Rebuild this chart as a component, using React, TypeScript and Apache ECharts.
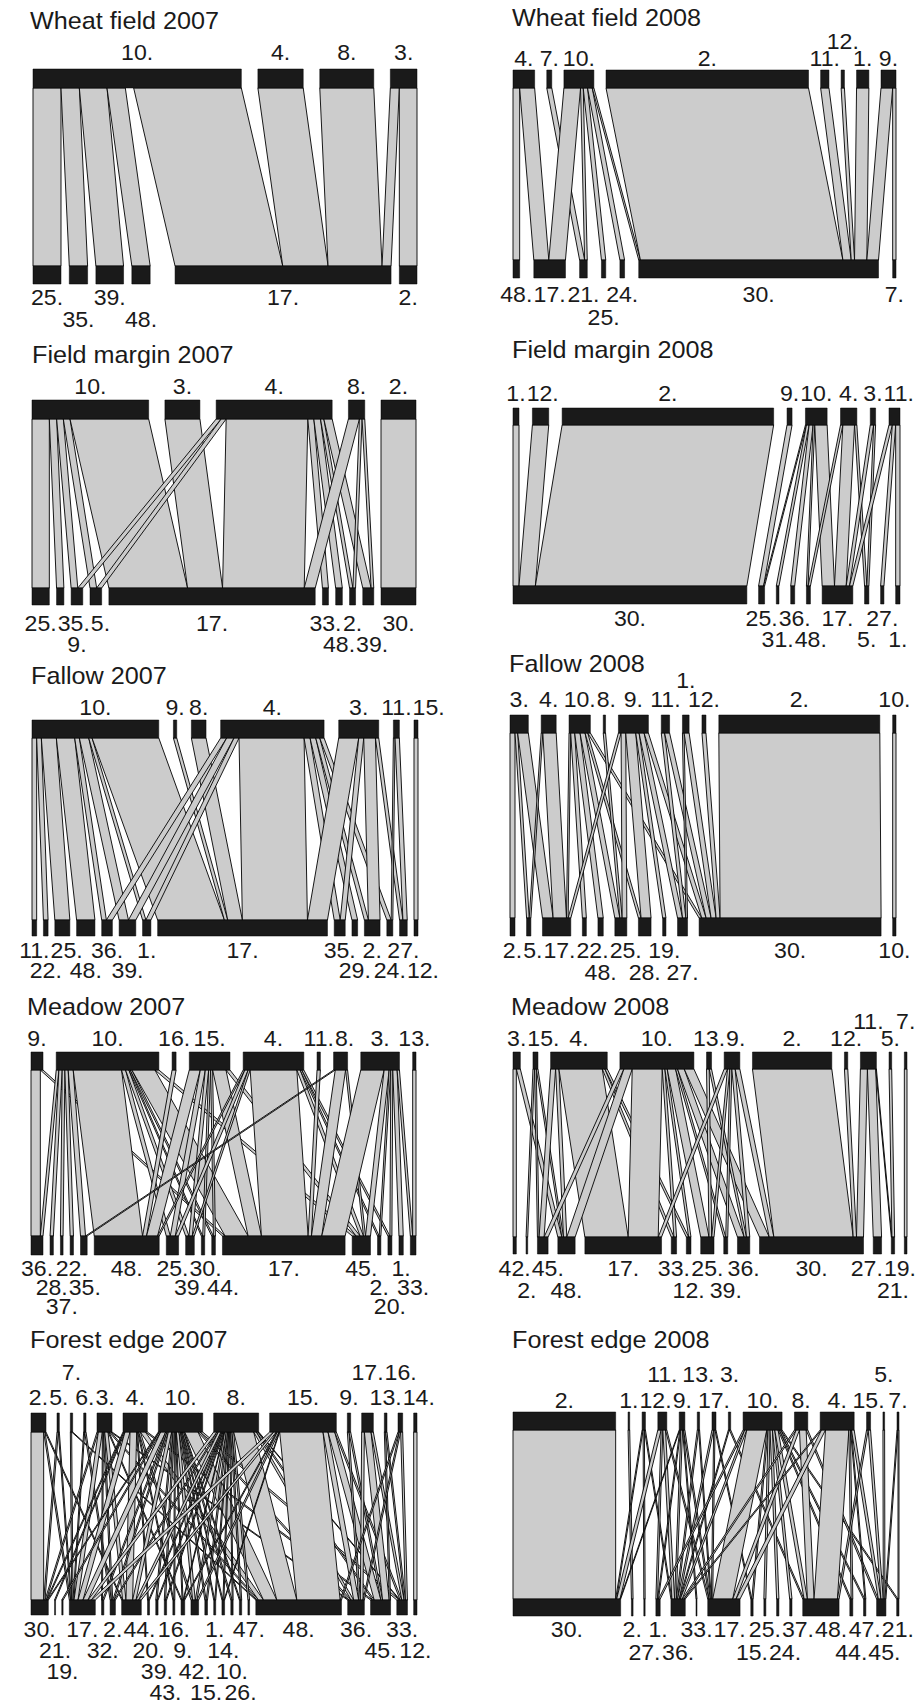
import React, { useEffect, useRef } from "react";
import * as echarts from "echarts";

// [higher-level index, lower-level index, number of interactions]
type Link = [number, number, number];

// ---------------- Wheat field 2007 ----------------
const wheat07High = ["10.", "4.", "8.", "3."];
const wheat07Low = ["25.", "35.", "39.", "48.", "", "17.", "2."];
const wheat07Links: Link[] = [
  [0, 0, 84], [0, 1, 55], [0, 2, 83], [0, 3, 55], [0, 4, 25], [0, 5, 323],
  [1, 5, 136], [2, 5, 162], [3, 5, 27], [3, 6, 53],
];

// ---------------- Wheat field 2008 ----------------
const wheat08High = ["4.", "7.", "10.", "2.", "11.", "12.", "1.", "9."];
const wheat08Low = ["48.", "17.", "21.", "25.", "24.", "30.", "7."];
const wheat08Links: Link[] = [
  [0, 0, 20], [0, 1, 45], [1, 2, 15],
  [2, 1, 50], [2, 2, 8], [2, 3, 13], [2, 4, 14], [2, 5, 5],
  [3, 5, 608], [4, 5, 25], [5, 5, 10], [6, 5, 37], [7, 5, 35], [7, 6, 10],
];

// ---------------- Field margin 2007 ----------------
const margin07High = ["10.", "3.", "4.", "8.", "2."];
const margin07Low = ["25.", "35.", "9.", "5.", "17.", "33.", "48.", "2.", "39.", "30."];
const margin07Links: Link[] = [
  [0, 0, 52], [0, 1, 22], [0, 2, 20], [0, 3, 20], [0, 4, 236],
  [1, 4, 105],
  [2, 2, 15], [2, 3, 15], [2, 4, 245], [2, 5, 18], [2, 6, 20], [2, 7, 10], [2, 8, 25],
  [3, 4, 33], [3, 7, 8], [3, 8, 8],
  [4, 9, 105],
];

// ---------------- Field margin 2008 ----------------
const margin08High = ["1.", "12.", "2.", "9.", "10.", "4.", "3.", "11."];
const margin08Low = ["30.", "25.", "31.", "36.", "48.", "17.", "5.", "27.", "1."];
const margin08Links: Link[] = [
  [0, 0, 18], [1, 0, 49], [2, 0, 634], [3, 1, 15],
  [4, 1, 3], [4, 2, 8], [4, 3, 12], [4, 4, 5], [4, 5, 37],
  [5, 4, 7], [5, 5, 35], [5, 6, 7],
  [6, 5, 10], [6, 6, 6],
  [7, 5, 10], [7, 7, 10], [7, 8, 13],
];

// ---------------- Fallow 2007 ----------------
const fallow07High = ["10.", "9.", "8.", "4.", "3.", "11.", "15."];
const fallow07Low = ["11.", "22.", "25.", "48.", "36.", "39.", "1.", "17.", "35.", "29.", "2.", "24.", "27.", "12."];
const fallow07Links: Link[] = [
  [0, 0, 14], [0, 1, 14], [0, 2, 45], [0, 3, 55], [0, 4, 14], [0, 5, 28], [0, 6, 10], [0, 7, 200],
  [1, 7, 10], [2, 7, 44],
  [3, 4, 18], [3, 5, 22], [3, 6, 15], [3, 7, 195], [3, 8, 18], [3, 9, 17], [3, 10, 12], [3, 11, 13],
  [4, 7, 60], [4, 8, 15], [4, 10, 35], [4, 12, 10],
  [5, 11, 5], [5, 12, 13], [6, 13, 12],
];

// ---------------- Fallow 2008 ----------------
const fallow08High = ["3.", "4.", "10.", "8.", "9.", "11.", "1.", "12.", "2.", "10."];
const fallow08Low = ["2.", "5.", "17.", "22.", "48.", "25.", "28.", "19.", "27.", "30.", "10."];
const fallow08Links: Link[] = [
  [0, 0, 15], [0, 1, 8], [0, 2, 32],
  [1, 1, 5], [1, 2, 40],
  [2, 2, 5], [2, 3, 12], [2, 4, 16], [2, 5, 15], [2, 6, 8], [2, 9, 8],
  [3, 5, 7],
  [4, 2, 8], [4, 5, 14], [4, 6, 30], [4, 7, 10], [4, 8, 15], [4, 9, 13],
  [5, 8, 10], [5, 9, 15], [6, 8, 5], [6, 9, 15], [7, 9, 12],
  [8, 9, 483], [9, 10, 10],
];

// ---------------- Meadow 2007 ----------------
const meadow07High = ["9.", "10.", "16.", "15.", "4.", "11.", "8.", "3.", "13."];
const meadow07Low = ["36.", "28.", "37.", "22.", "35.", "48.", "25.", "39.", "30.", "44.", "17.", "45.", "2.", "20.", "1.", "33."];
const meadow07Links: Link[] = [
  [0, 0, 28], [0, 10, 8],
  [1, 0, 8], [1, 1, 10], [1, 2, 8], [1, 3, 10], [1, 4, 15], [1, 5, 145], [1, 6, 12], [1, 7, 10],
  [1, 8, 4], [1, 9, 5], [1, 10, 69], [1, 11, 12],
  [2, 5, 12],
  [3, 5, 33], [3, 6, 15], [3, 7, 10], [3, 8, 6], [3, 9, 6], [3, 10, 40], [3, 11, 12],
  [4, 5, 5], [4, 6, 10], [4, 7, 6], [4, 10, 140], [4, 11, 10], [4, 12, 5], [4, 13, 6],
  [5, 10, 10],
  [6, 4, 5], [6, 10, 31], [6, 11, 6],
  [7, 10, 70], [7, 11, 15], [7, 12, 5], [7, 13, 6], [7, 14, 13], [7, 15, 7],
  [8, 15, 10],
];

// ---------------- Meadow 2008 ----------------
const meadow08High = ["3.", "15.", "4.", "10.", "13.", "9.", "2.", "12.", "11.", "5.", "7."];
const meadow08Low = ["42.", "2.", "45.", "48.", "17.", "33.", "12.", "25.", "39.", "36.", "30.", "27.", "21.", "19."];
const meadow08Links: Link[] = [
  [0, 0, 10], [0, 3, 12],
  [1, 1, 5], [1, 2, 5], [1, 3, 5],
  [2, 2, 15], [2, 3, 10], [2, 4, 130], [2, 5, 8], [2, 6, 7],
  [3, 2, 12], [3, 3, 25], [3, 4, 90], [3, 5, 8], [3, 6, 7], [3, 7, 25], [3, 8, 6], [3, 9, 20], [3, 10, 29],
  [4, 7, 8], [4, 9, 7],
  [5, 4, 10], [5, 7, 7], [5, 8, 6], [5, 9, 10], [5, 10, 14],
  [6, 10, 238], [7, 10, 10],
  [8, 10, 21], [8, 11, 25], [8, 12, 2],
  [9, 12, 8], [10, 13, 8],
];

// ---------------- Forest edge 2007 ----------------
const forest07High = ["2.", "5.", "7.", "6.", "3.", "4.", "10.", "8.", "15.", "9.", "17.", "13.", "16.", "14."];
const forest07Low = ["30.", "21.", "19.", "17.", "32.", "2.", "44.", "20.", "39.", "43.", "16.", "9.", "42.", "15.", "1.", "14.", "10.", "26.", "47.", "48.", "36.", "45.", "33.", "12."];
const forest07Links: Link[] = [
  [0, 0, 38], [0, 3, 4], [0, 6, 3],
  [1, 0, 4], [1, 3, 3],
  [2, 3, 4], [2, 19, 3],
  [3, 3, 3], [3, 5, 4],
  [4, 0, 4], [4, 3, 12], [4, 4, 3], [4, 5, 4], [4, 6, 10], [4, 11, 3], [4, 19, 5], [4, 20, 4],
  [5, 0, 3], [5, 1, 3], [5, 3, 15], [5, 6, 20], [5, 7, 3], [5, 10, 3], [5, 12, 5], [5, 19, 15], [5, 21, 6],
  [6, 0, 3], [6, 2, 4], [6, 3, 15], [6, 4, 4], [6, 5, 4], [6, 6, 10], [6, 8, 4], [6, 9, 4], [6, 10, 3],
  [6, 11, 3], [6, 12, 8], [6, 13, 4], [6, 14, 3], [6, 15, 3], [6, 16, 4], [6, 17, 3], [6, 19, 40],
  [6, 20, 6], [6, 22, 8],
  [7, 3, 10], [7, 5, 4], [7, 6, 8], [7, 7, 3], [7, 8, 3], [7, 9, 3], [7, 11, 2], [7, 12, 5], [7, 13, 4],
  [7, 14, 3], [7, 15, 3], [7, 16, 3], [7, 17, 4], [7, 18, 5], [7, 19, 60], [7, 20, 8], [7, 21, 5], [7, 22, 2],
  [8, 3, 12], [8, 6, 8], [8, 11, 3], [8, 12, 5], [8, 15, 2], [8, 19, 130], [8, 20, 15], [8, 21, 20], [8, 22, 5],
  [9, 20, 5], [9, 21, 5],
  [10, 20, 8], [10, 21, 20], [10, 22, 7],
  [11, 21, 4], [11, 22, 4],
  [12, 19, 4], [12, 20, 4], [12, 22, 6],
  [13, 23, 10],
];

// ---------------- Forest edge 2008 ----------------
const forest08High = ["2.", "1.", "12.", "11.", "9.", "13.", "17.", "3.", "10.", "8.", "4.", "15.", "5.", "7."];
const forest08Low = ["30.", "2.", "27.", "1.", "36.", "33.", "17.", "15.", "25.", "24.", "37.", "48.", "44.", "47.", "45.", "21."];
const forest08Links: Link[] = [
  [0, 0, 308], [1, 1, 5],
  [2, 0, 3], [2, 2, 4], [2, 4, 3],
  [3, 0, 10], [3, 3, 5], [3, 4, 8], [3, 6, 4],
  [4, 0, 2], [4, 3, 3], [4, 4, 5], [4, 5, 3], [4, 6, 4],
  [5, 4, 4], [5, 6, 3],
  [6, 4, 5], [6, 6, 4], [6, 7, 3],
  [7, 4, 3], [7, 11, 4],
  [8, 3, 5], [8, 4, 6], [8, 6, 60], [8, 7, 4], [8, 8, 6], [8, 9, 7], [8, 10, 7], [8, 11, 10],
  [8, 12, 4], [8, 13, 4], [8, 15, 4],
  [9, 4, 5], [9, 6, 10], [9, 11, 20], [9, 14, 5],
  [10, 4, 4], [10, 6, 12], [10, 11, 70], [10, 12, 5], [10, 13, 3], [10, 14, 8],
  [11, 11, 5], [11, 14, 7],
  [12, 14, 5], [13, 14, 3], [13, 15, 3],
];

// ---------------- Layout (pixels) ----------------
interface Layout {
  x: number; width: number; extent: number;
  boxTop: number; boxBottom: number; highH: number; lowH: number;
  titleX: number; titleY: number;
  highLabelY: number; highRowGap: number; lowLabelY: number; lowRowGap: number;
  highRows: number[]; lowRows: number[];
}
interface Panel { title: string; high: string[]; low: string[]; links: Link[]; layout: Layout; }

const PANELS: Panel[] = [
  { title: "Wheat field 2007", high: wheat07High, low: wheat07Low, links: wheat07Links,
    layout: { x: 33, width: 384, extent: 1152, boxTop: 69, boxBottom: 284, highH: 19, lowH: 18, titleX: 30, titleY: 21,
      highLabelY: 53, highRowGap: 17, lowLabelY: 298, lowRowGap: 22,
      highRows: [0, 0, 0, 0], lowRows: [0, 1, 0, 1, 0, 0, 0] } },
  { title: "Wheat field 2008", high: wheat08High, low: wheat08Low, links: wheat08Links,
    layout: { x: 513, width: 383, extent: 1150, boxTop: 70, boxBottom: 278, highH: 18, lowH: 18, titleX: 512, titleY: 18,
      highLabelY: 59, highRowGap: 17, lowLabelY: 295, lowRowGap: 23,
      highRows: [0, 0, 0, 0, 0, 1, 0, 0], lowRows: [0, 0, 0, 1, 0, 0, 0] } },
  { title: "Field margin 2007", high: margin07High, low: margin07Low, links: margin07Links,
    layout: { x: 32, width: 384, extent: 1152, boxTop: 400, boxBottom: 605, highH: 19, lowH: 17, titleX: 32, titleY: 355,
      highLabelY: 387, highRowGap: 17, lowLabelY: 624, lowRowGap: 21,
      highRows: [0, 0, 0, 0, 0], lowRows: [0, 0, 1, 0, 0, 0, 1, 0, 1, 0] } },
  { title: "Field margin 2008", high: margin08High, low: margin08Low, links: margin08Links,
    layout: { x: 513, width: 387, extent: 1160, boxTop: 408, boxBottom: 604, highH: 17, lowH: 18, titleX: 512, titleY: 350,
      highLabelY: 394, highRowGap: 17, lowLabelY: 619, lowRowGap: 21,
      highRows: [0, 0, 0, 0, 0, 0, 0, 0], lowRows: [0, 0, 1, 0, 1, 0, 1, 0, 1] } },
  { title: "Fallow 2007", high: fallow07High, low: fallow07Low, links: fallow07Links,
    layout: { x: 32, width: 386, extent: 1157, boxTop: 720, boxBottom: 936, highH: 18, lowH: 16, titleX: 31, titleY: 676,
      highLabelY: 708, highRowGap: 17, lowLabelY: 951, lowRowGap: 20,
      highRows: [0, 0, 0, 0, 0, 0, 0], lowRows: [0, 1, 0, 1, 0, 1, 0, 0, 0, 1, 0, 1, 0, 1] } },
  { title: "Fallow 2008", high: fallow08High, low: fallow08Low, links: fallow08Links,
    layout: { x: 510, width: 386, extent: 1158, boxTop: 715, boxBottom: 936, highH: 18, lowH: 18, titleX: 509, titleY: 664,
      highLabelY: 700, highRowGap: 19, lowLabelY: 951, lowRowGap: 22,
      highRows: [0, 0, 0, 0, 0, 0, 1, 0, 0, 0], lowRows: [0, 0, 0, 0, 1, 0, 1, 0, 1, 0, 0] } },
  { title: "Meadow 2007", high: meadow07High, low: meadow07Low, links: meadow07Links,
    layout: { x: 31, width: 385, extent: 1155, boxTop: 1052, boxBottom: 1255, highH: 18, lowH: 19, titleX: 27, titleY: 1007,
      highLabelY: 1039, highRowGap: 17, lowLabelY: 1269, lowRowGap: 19,
      highRows: [0, 0, 0, 0, 0, 0, 0, 0, 0], lowRows: [0, 1, 2, 0, 1, 0, 0, 1, 0, 1, 0, 0, 1, 2, 0, 1] } },
  { title: "Meadow 2008", high: meadow08High, low: meadow08Low, links: meadow08Links,
    layout: { x: 513, width: 394, extent: 1182, boxTop: 1052, boxBottom: 1254, highH: 17, lowH: 17, titleX: 511, titleY: 1007,
      highLabelY: 1039, highRowGap: 17, lowLabelY: 1269, lowRowGap: 22,
      highRows: [0, 0, 0, 0, 0, 0, 0, 0, 1, 0, 1], lowRows: [0, 1, 0, 1, 0, 0, 1, 0, 1, 0, 0, 0, 1, 0] } },
  { title: "Forest edge 2007", high: forest07High, low: forest07Low, links: forest07Links,
    layout: { x: 31, width: 386, extent: 1158, boxTop: 1413, boxBottom: 1615, highH: 19, lowH: 15, titleX: 30, titleY: 1340,
      highLabelY: 1398, highRowGap: 25, lowLabelY: 1630, lowRowGap: 21,
      highRows: [0, 0, 1, 0, 0, 0, 0, 0, 0, 0, 1, 0, 1, 0],
      lowRows: [0, 1, 2, 0, 1, 0, 0, 1, 2, 3, 0, 1, 2, 3, 0, 1, 2, 3, 0, 0, 0, 1, 0, 1] } },
  { title: "Forest edge 2008", high: forest08High, low: forest08Low, links: forest08Links,
    layout: { x: 513, width: 386, extent: 1158, boxTop: 1412, boxBottom: 1616, highH: 18, lowH: 17, titleX: 512, titleY: 1340,
      highLabelY: 1401, highRowGap: 26, lowLabelY: 1630, lowRowGap: 23,
      highRows: [0, 0, 0, 1, 0, 1, 0, 1, 0, 0, 0, 0, 1, 0],
      lowRows: [0, 0, 1, 0, 1, 0, 0, 1, 0, 1, 0, 0, 1, 0, 1, 0] } },
];

const FONT = '"Liberation Sans", Arial, Helvetica, sans-serif';
const LABEL_SIZE = 22;
const TITLE_SIZE = 24;
const LINK_FILL = "#cccccc";
const BOX_FILL = "#1a1a1a";
const TEXT_FILL = "#1a1a1a";
const STRETCH = 1.05;
const PAGE_RIGHT = 916; // labels must end before this x (px)

interface Item { kind: string; value: number[]; text?: string; row?: number; hidden?: boolean; }

let measureCtx: CanvasRenderingContext2D | null = null;
function textWidth(s: string): number {
  if (!measureCtx) measureCtx = document.createElement("canvas").getContext("2d");
  if (!measureCtx) return s.length * LABEL_SIZE * 0.5;
  measureCtx.font = `${LABEL_SIZE}px ${FONT}`;
  return measureCtx.measureText(s).width * STRETCH;
}

function levelPositions(sizes: number[], extent: number): number[] {
  const total = sizes.reduce((a, b) => a + b, 0);
  const n = sizes.length;
  const gap = n > 1 ? (extent - total) / (n - 1) : 0;
  const starts: number[] = [];
  let x = 0;
  sizes.forEach((s) => { starts.push(x); x += s + gap; });
  return starts;
}

// centre labels on their boxes, push right (within a row) so they never overlap,
// then pull back left any label that would run past the page edge
function placeLabels(names: string[], centres: number[], rows: number[], unitsPerPx: number, rightBound: number): number[] {
  const out = centres.slice();
  const widths = names.map((n) => textWidth(n) * unitsPerPx);
  const lastRight: Record<number, number> = {};
  names.forEach((name, i) => {
    if (name === "") return;
    const r = rows[i] || 0;
    let left = out[i] - widths[i] / 2;
    if (lastRight[r] !== undefined && left < lastRight[r] + unitsPerPx) left = lastRight[r] + unitsPerPx;
    out[i] = left + widths[i] / 2;
    lastRight[r] = left + widths[i];
  });
  const nextLeft: Record<number, number> = {};
  for (let i = names.length - 1; i >= 0; i--) {
    if (names[i] === "") continue;
    const r = rows[i] || 0;
    const bound = nextLeft[r] !== undefined ? nextLeft[r] - unitsPerPx : rightBound;
    let right = out[i] + widths[i] / 2;
    if (right > bound) right = bound;
    out[i] = right - widths[i] / 2;
    nextLeft[r] = right - widths[i];
  }
  return out;
}

function buildItems(p: Panel): Item[] {
  const nH = p.high.length, nL = p.low.length;
  const hSize = new Array(nH).fill(0), lSize = new Array(nL).fill(0);
  p.links.forEach(([h, l, w]) => { hSize[h] += w; lSize[l] += w; });
  const hStart = levelPositions(hSize, p.layout.extent);
  const lStart = levelPositions(lSize, p.layout.extent);
  const idx = p.links.map((_, i) => i);
  const topSeg: number[] = new Array(p.links.length).fill(0);
  const botSeg: number[] = new Array(p.links.length).fill(0);
  const hOff = hStart.slice(), lOff = lStart.slice();
  [...idx].sort((a, b) => p.links[a][0] - p.links[b][0] || p.links[a][1] - p.links[b][1]).forEach((i) => {
    const [h, , w] = p.links[i]; topSeg[i] = hOff[h]; hOff[h] += w;
  });
  [...idx].sort((a, b) => p.links[a][1] - p.links[b][1] || p.links[a][0] - p.links[b][0]).forEach((i) => {
    const [, l, w] = p.links[i]; botSeg[i] = lOff[l]; lOff[l] += w;
  });
  const unitsPerPx = p.layout.extent / p.layout.width;
  const rightBound = (PAGE_RIGHT - p.layout.x) * unitsPerPx;
  const hLab = placeLabels(p.high, hStart.map((s, i) => s + hSize[i] / 2), p.layout.highRows, unitsPerPx, rightBound);
  const lLab = placeLabels(p.low, lStart.map((s, i) => s + lSize[i] / 2), p.layout.lowRows, unitsPerPx, rightBound);
  const items: Item[] = [];
  p.links.forEach(([h, l, w], i) => {
    items.push({ kind: "link", value: [topSeg[i], topSeg[i] + w, botSeg[i], botSeg[i] + w],
      hidden: p.high[h] === "" || p.low[l] === "" });
  });
  p.high.forEach((name, i) => {
    if (name === "") return;
    items.push({ kind: "highBox", value: [hStart[i], hStart[i] + hSize[i]] });
  });
  p.low.forEach((name, i) => {
    if (name === "") return;
    items.push({ kind: "lowBox", value: [lStart[i], lStart[i] + lSize[i]] });
  });
  p.high.forEach((name, i) => {
    if (name === "") return;
    items.push({ kind: "highLabel", value: [hLab[i]], text: name, row: p.layout.highRows[i] || 0 });
  });
  p.low.forEach((name, i) => {
    if (name === "") return;
    items.push({ kind: "lowLabel", value: [lLab[i]], text: name, row: p.layout.lowRows[i] || 0 });
  });
  return items;
}

export default function App() {
  const ref = useRef<HTMLDivElement>(null);
  useEffect(() => {
    if (!ref.current) return;
    const chart = echarts.init(ref.current, null, { renderer: "svg" });
    const grids: any[] = [], xAxes: any[] = [], yAxes: any[] = [], series: any[] = [], graphics: any[] = [];
    PANELS.forEach((p, pi) => {
      const L = p.layout;
      const H = L.boxBottom - L.boxTop;
      grids.push({ left: L.x, top: L.boxTop, width: L.width, height: H, show: false });
      xAxes.push({ gridIndex: pi, type: "value", min: 0, max: L.extent, show: false });
      yAxes.push({ gridIndex: pi, type: "value", min: 0, max: H, inverse: true, show: false });
      const items = buildItems(p);
      series.push({
        type: "custom",
        coordinateSystem: "cartesian2d",
        xAxisIndex: pi,
        yAxisIndex: pi,
        clip: false,
        silent: true,
        data: items.map((it) => [it.value[0], 0]),
        renderItem: (params: any, api: any) => {
          const it = items[params.dataIndex];
          const v = it.value;
          if (it.kind === "link") {
            if (it.hidden) return { type: "group", children: [] };
            const a = api.coord([v[0], L.highH]);
            const b = api.coord([v[1], L.highH]);
            const c = api.coord([v[3], H - L.lowH]);
            const d = api.coord([v[2], H - L.lowH]);
            return { type: "polygon", z2: 1, shape: { points: [a, b, c, d] },
              style: { fill: LINK_FILL, stroke: "#000", lineWidth: 0.9 } };
          }
          if (it.kind === "highBox" || it.kind === "lowBox") {
            const y0 = it.kind === "highBox" ? 0 : H - L.lowH;
            const y1 = it.kind === "highBox" ? L.highH : H;
            const p0 = api.coord([v[0], y0]);
            const p1 = api.coord([v[1], y1]);
            return { type: "rect", z2: 2,
              shape: { x: p0[0], y: p0[1], width: Math.max(p1[0] - p0[0], 0.8), height: p1[1] - p0[1] },
              style: { fill: BOX_FILL, stroke: "#000", lineWidth: 0.5 } };
          }
          const px = api.coord([v[0], 0])[0];
          const row = it.row || 0;
          const py = it.kind === "highLabel" ? L.highLabelY - row * L.highRowGap : L.lowLabelY + row * L.lowRowGap;
          return { type: "text", z2: 3, x: px, y: py, scaleX: STRETCH,
            style: { text: it.text, x: 0, y: 0, fill: TEXT_FILL, font: `${LABEL_SIZE}px ${FONT}`,
              align: "center", verticalAlign: "middle", textAlign: "center", textVerticalAlign: "middle" } };
        },
      });
      graphics.push({ type: "text", x: L.titleX, y: L.titleY, scaleX: STRETCH, silent: true,
        style: { text: p.title, x: 0, y: 0, fill: TEXT_FILL, font: `${TITLE_SIZE}px ${FONT}`,
          align: "left", verticalAlign: "middle", textAlign: "left", textVerticalAlign: "middle" } });
    });
    chart.setOption({
      animation: false,
      backgroundColor: "#ffffff",
      grid: grids,
      xAxis: xAxes,
      yAxis: yAxes,
      series,
      graphic: graphics,
    });
    return () => chart.dispose();
  }, []);
  return (
    <div
      ref={ref}
      style={{ position: "absolute", left: 0, top: 0, width: 921, height: 1704, background: "#fff" }}
    />
  );
}
